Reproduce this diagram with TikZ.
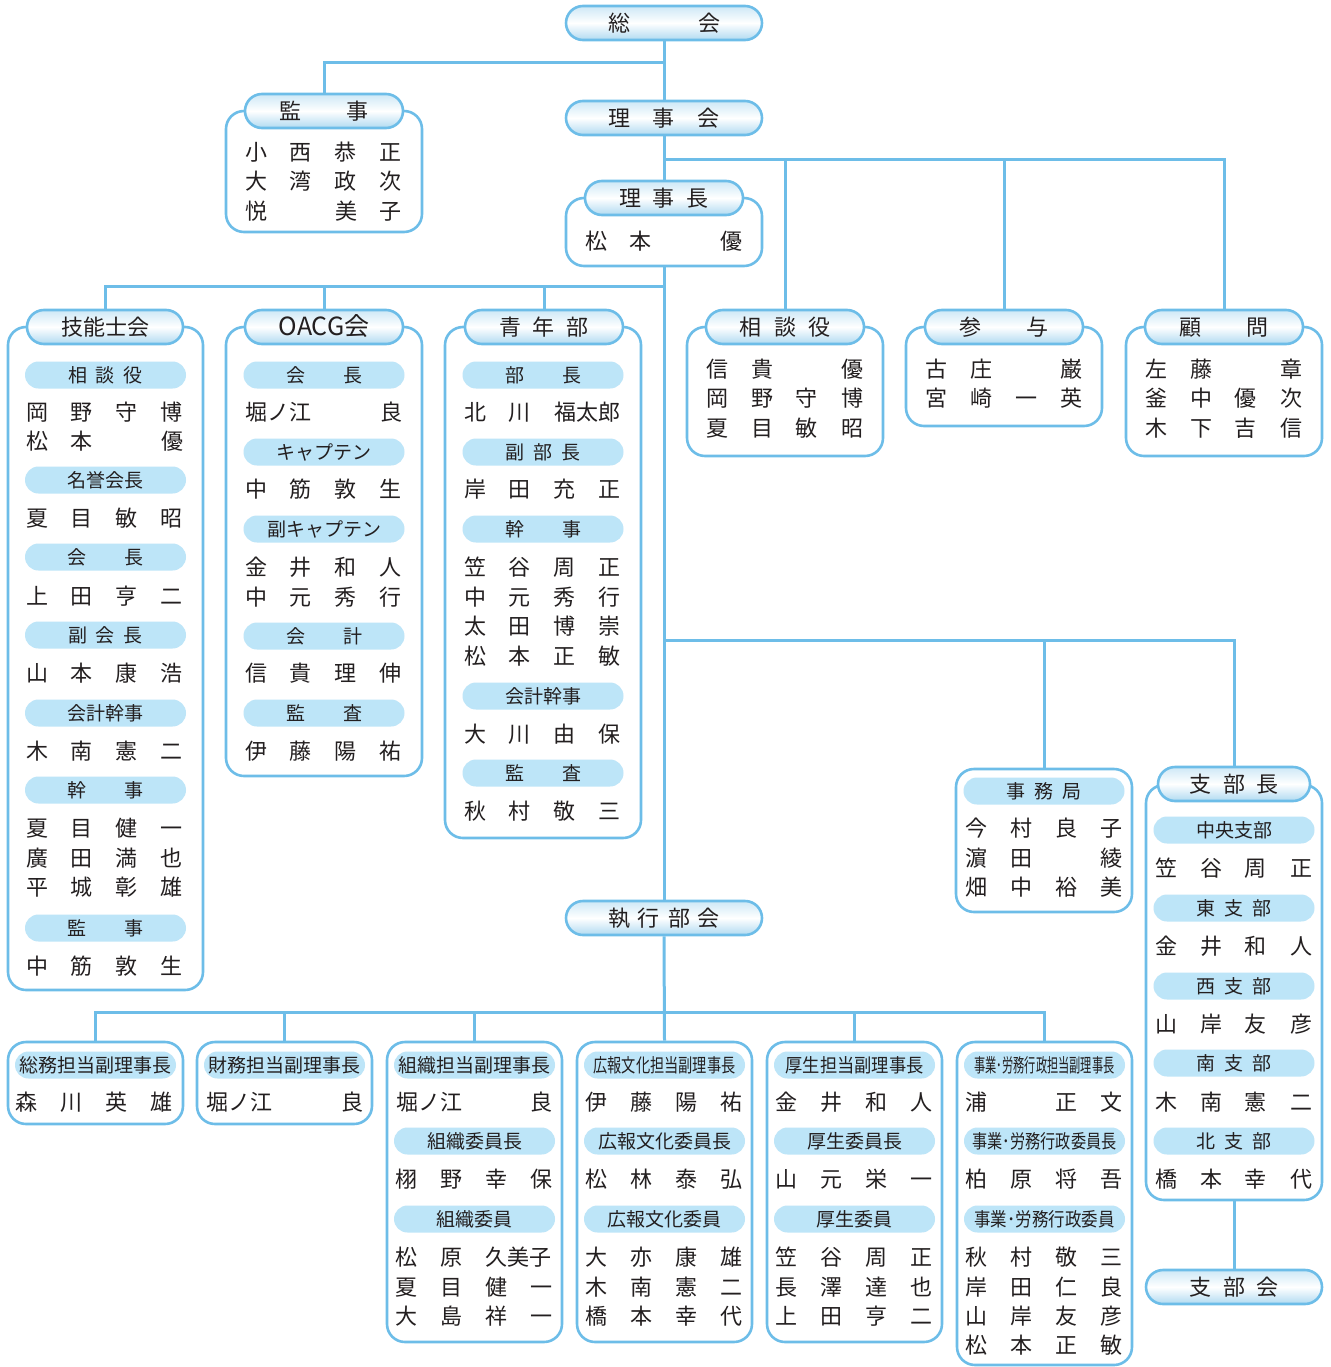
\documentclass[tikz,border=0pt]{standalone}
\usepackage{fontspec}
\setmainfont{Noto Sans CJK JP}
\usepackage{graphicx}
\usetikzlibrary{calc}
\definecolor{lc}{HTML}{6DBDE8}
\definecolor{sc}{HTML}{BDE5F8}
\definecolor{hcone}{HTML}{CDE8F6}
\definecolor{hctwo}{HTML}{B0DAF1}
\definecolor{tc}{HTML}{231F20}
\pgfdeclarelayer{bg}
\pgfsetlayers{bg,main}
\newcommand\ps[2]{\def\pspitch{#1}\psloop#2\relax}
\def\psloop#1{\ifx\relax#1\else\makebox[\pspitch pt]{#1}\expandafter\psloop\fi}
\newcommand\nmr[4]{\makebox[45pt]{#1}\makebox[45pt]{#2}\makebox[45pt]{#3}\makebox[45pt]{#4}}
\newcommand\hfont{\fontsize{22}{22}\selectfont}
\newcommand\sfont{\fontsize{19}{19}\selectfont}
\newcommand\nfont{\fontsize{22}{22}\selectfont}
\newcommand\cx[2]{\resizebox{#1pt}{\height}{#2}}
\tikzset{
  conn/.style={draw=lc, line width=3pt},
  hpill/.style={draw=lc, line width=2.6pt, rounded corners=17pt, minimum height=34pt,
    top color=hcone, bottom color=hctwo, middle color=white, inner sep=0pt,
    font=\hfont, text=tc, text height=19.36pt, text depth=2.64pt},
  subpill/.style={fill=sc, rounded corners=13.5pt, minimum width=161pt, minimum height=27pt,
    inner sep=0pt, font=\sfont, text=tc, text height=16.72pt, text depth=2.28pt},
  grp/.style={draw=lc, line width=2.6pt, rounded corners=18pt, fill=white, inner sep=0pt},
  nm/.style={font=\nfont, text=tc, inner sep=0pt, text height=19.36pt, text depth=2.64pt},
}
\newcommand\grpbox[5]{\node[grp, minimum width={#4-#2}, minimum height={#5-#3}] (#1) at ({(#2+#4)/2},{(#3+#5)/2}) {};}
\newcommand\hp[5]{\node[hpill, minimum width=#4] (#1) at (#2,#3) {#5};}
\newcommand\subp[4]{\node[subpill] (#1) at (#2,#3) {#4};}
\newcommand\nr[4]{\node[nm] (#1) at (#2,#3) {#4};}
\begin{document}
\begin{tikzpicture}[x=1pt,y=-1pt]
\useasboundingbox (0,0) rectangle (1330,1367);
% ---- top ----
\hp{soukai}{664}{23}{196}{\ps{90}{総会}}
\grpbox{kanjibox}{226}{111}{422}{232}
\hp{kanjip}{324}{111}{158}{\ps{67}{監事}}
\nr{k1}{323.5}{152}{\nmr{小}{西}{恭}{正}}
\nr{k2}{323.5}{181}{\nmr{大}{湾}{政}{次}}
\nr{k3}{323.5}{211}{\nmr{悦}{}{美}{子}}
\hp{rijikai}{664}{118}{196}{\ps{45}{理事会}}
\grpbox{rijichoubox}{566}{198}{762}{266}
\hp{rijichoup}{664}{198}{158}{\ps{34}{理事長}}
\nr{rc1}{663.5}{241}{\nmr{松}{本}{}{優}}
% ---- 技能士会 ----
\grpbox{ginoubox}{8}{327}{203}{990}
\hp{ginoup}{105}{327}{156}{技能士会}
\subp{g1}{105.5}{375}{\ps{28}{相談役}}
\nr{gn1}{104.5}{412}{\nmr{岡}{野}{守}{博}}
\nr{gn2}{104.5}{441}{\nmr{松}{本}{}{優}}
\subp{g2}{105.5}{480}{名誉会長}
\nr{gn3}{104.5}{518}{\nmr{夏}{目}{敏}{昭}}
\subp{g3}{105.5}{557}{\ps{57}{会長}}
\nr{gn4}{104.5}{596}{\nmr{上}{田}{亨}{二}}
\subp{g4}{105.5}{635}{\ps{28}{副会長}}
\nr{gn5}{104.5}{673}{\nmr{山}{本}{康}{浩}}
\subp{g5}{105.5}{713}{会計幹事}
\nr{gn6}{104.5}{751}{\nmr{木}{南}{憲}{二}}
\subp{g6}{105.5}{790}{\ps{57}{幹事}}
\nr{gn7}{104.5}{828}{\nmr{夏}{目}{健}{一}}
\nr{gn8}{104.5}{858}{\nmr{廣}{田}{満}{也}}
\nr{gn9}{104.5}{887}{\nmr{平}{城}{彰}{雄}}
\subp{g7}{105.5}{928}{\ps{57}{監事}}
\nr{gn10}{104.5}{966}{\nmr{中}{筋}{敦}{生}}
% ---- OACG会 ----
\grpbox{oacgbox}{226}{327}{422}{776}
\hp{oacgp}{324}{327}{158}{\fontsize{25}{25}\selectfont OACG会}
\subp{o1}{324}{375}{\ps{57}{会長}}
\nr{on1}{323.5}{412}{\makebox[90pt]{堀ノ江}\makebox[45pt]{}\makebox[45pt]{良}}
\subp{o2}{324}{452}{キャプテン}
\nr{on2}{323.5}{489}{\nmr{中}{筋}{敦}{生}}
\subp{o3}{324}{529}{副キャプテン}
\nr{on3}{323.5}{567}{\nmr{金}{井}{和}{人}}
\nr{on4}{323.5}{597}{\nmr{中}{元}{秀}{行}}
\subp{o4}{324}{636}{\ps{57}{会計}}
\nr{on5}{323.5}{673}{\nmr{信}{貴}{理}{伸}}
\subp{o5}{324}{713}{\ps{57}{監査}}
\nr{on6}{323.5}{751}{\nmr{伊}{藤}{陽}{祐}}
% ---- 青年部 ----
\grpbox{seinenbox}{445}{327}{641}{838}
\hp{seinenp}{544}{327}{158}{\ps{33.5}{青年部}}
\subp{s1}{543}{375}{\ps{57}{部長}}
\nr{sn1}{542.5}{412}{\makebox[45pt]{北}\makebox[45pt]{川}\makebox[90pt]{福太郎}}
\subp{s2}{543}{452}{\ps{28}{副部長}}
\nr{sn2}{542.5}{489}{\nmr{岸}{田}{充}{正}}
\subp{s3}{543}{529}{\ps{57}{幹事}}
\nr{sn3}{542.5}{567}{\nmr{笠}{谷}{周}{正}}
\nr{sn4}{542.5}{597}{\nmr{中}{元}{秀}{行}}
\nr{sn5}{542.5}{626}{\nmr{太}{田}{博}{崇}}
\nr{sn6}{542.5}{656}{\nmr{松}{本}{正}{敏}}
\subp{s4}{543}{696}{会計幹事}
\nr{sn7}{542.5}{734}{\nmr{大}{川}{由}{保}}
\subp{s5}{543}{773}{\ps{57}{監査}}
\nr{sn8}{542.5}{811}{\nmr{秋}{村}{敬}{三}}
% ---- 相談役 / 参与 / 顧問 ----
\grpbox{soudanbox}{687}{327}{883}{456}
\hp{soudanp}{785}{327}{158}{\ps{34.5}{相談役}}
\nr{sd1}{784.5}{369}{\nmr{信}{貴}{}{優}}
\nr{sd2}{784.5}{398}{\nmr{岡}{野}{守}{博}}
\nr{sd3}{784.5}{428}{\nmr{夏}{目}{敏}{昭}}
\grpbox{sanyobox}{906}{327}{1102}{426}
\hp{sanyop}{1004}{327}{158}{\ps{68}{参与}}
\nr{sy1}{1004}{369}{\nmr{古}{庄}{}{巌}}
\nr{sy2}{1004}{398}{\nmr{宮}{崎}{一}{英}}
\grpbox{komonbox}{1126}{327}{1322}{456}
\hp{komonp}{1224}{327}{158}{\ps{68}{顧問}}
\nr{km1}{1223.5}{369}{\nmr{左}{藤}{}{章}}
\nr{km2}{1223.5}{398}{\nmr{釜}{中}{優}{次}}
\nr{km3}{1223.5}{428}{\nmr{木}{下}{吉}{信}}
% ---- 事務局 ----
\grpbox{jimubox}{956}{769}{1132}{912}
\subp{jimus}{1044}{791}{\ps{28}{事務局}}
\nr{jm1}{1044}{828}{\nmr{今}{村}{良}{子}}
\nr{jm2}{1044}{858}{\nmr{濵}{田}{}{綾}}
\nr{jm3}{1044}{887}{\nmr{畑}{中}{裕}{美}}
% ---- 支部長 ----
\grpbox{shibuchoubox}{1146}{785}{1322}{1200}
\hp{shibuchoup}{1234}{784}{152}{\ps{34}{支部長}}
\subp{b1s}{1234}{830}{中央支部}
\nr{bn1}{1233.5}{868}{\nmr{笠}{谷}{周}{正}}
\subp{b2s}{1234}{908}{\ps{28}{東支部}}
\nr{bn2}{1233.5}{946}{\nmr{金}{井}{和}{人}}
\subp{b3s}{1234}{986}{\ps{28}{西支部}}
\nr{bn3}{1233.5}{1024}{\nmr{山}{岸}{友}{彦}}
\subp{b4s}{1234}{1063}{\ps{28}{南支部}}
\nr{bn4}{1233.5}{1102}{\nmr{木}{南}{憲}{二}}
\subp{b5s}{1234}{1141}{\ps{28}{北支部}}
\nr{bn5}{1233.5}{1179}{\nmr{橋}{本}{幸}{代}}
\hp{shibukai}{1234}{1287}{176}{\ps{34}{支部会}}
% ---- 執行部会 ----
\hp{shikkou}{664}{918}{196}{\ps{30}{執行部会}}
% ---- bottom boxes ----
\grpbox{bx1}{8}{1042}{183}{1124}
\subp{x1s}{95.5}{1065}{総務担当副理事長}
\nr{x1n}{94.5}{1102}{\nmr{森}{川}{英}{雄}}
\grpbox{bx2}{197}{1042}{372}{1124}
\subp{x2s}{284.5}{1065}{財務担当副理事長}
\nr{x2n}{284.5}{1102}{\makebox[90pt]{堀ノ江}\makebox[45pt]{}\makebox[45pt]{良}}
\grpbox{bx3}{387}{1042}{562}{1342}
\subp{x3s}{474.5}{1065}{組織担当副理事長}
\nr{x3n1}{474}{1102}{\makebox[90pt]{堀ノ江}\makebox[45pt]{}\makebox[45pt]{良}}
\subp{x3t}{474.5}{1141}{組織委員長}
\nr{x3n2}{474}{1179}{\nmr{栩}{野}{幸}{保}}
\subp{x3u}{474.5}{1219}{組織委員}
\nr{x3n3}{474}{1257}{\makebox[45pt]{松}\makebox[45pt]{原}\makebox[90pt]{久美子}}
\nr{x3n4}{474}{1287}{\nmr{夏}{目}{健}{一}}
\nr{x3n5}{474}{1316}{\nmr{大}{島}{祥}{一}}
\grpbox{bx4}{577}{1042}{752}{1342}
\subp{x4s}{664.5}{1065}{\cx{142}{広報文化担当副理事長}}
\nr{x4n1}{664}{1102}{\nmr{伊}{藤}{陽}{祐}}
\subp{x4t}{664.5}{1141}{広報文化委員長}
\nr{x4n2}{664}{1179}{\nmr{松}{林}{泰}{弘}}
\subp{x4u}{664.5}{1219}{広報文化委員}
\nr{x4n3}{664}{1257}{\nmr{大}{亦}{康}{雄}}
\nr{x4n4}{664}{1287}{\nmr{木}{南}{憲}{二}}
\nr{x4n5}{664}{1316}{\nmr{橋}{本}{幸}{代}}
\grpbox{bx5}{767}{1042}{942}{1342}
\subp{x5s}{854.5}{1065}{\cx{138}{厚生担当副理事長}}
\nr{x5n1}{854}{1102}{\nmr{金}{井}{和}{人}}
\subp{x5t}{854.5}{1141}{厚生委員長}
\nr{x5n2}{854}{1179}{\nmr{山}{元}{栄}{一}}
\subp{x5u}{854.5}{1219}{厚生委員}
\nr{x5n3}{854}{1257}{\nmr{笠}{谷}{周}{正}}
\nr{x5n4}{854}{1287}{\nmr{長}{澤}{達}{也}}
\nr{x5n5}{854}{1316}{\nmr{上}{田}{亨}{二}}
\grpbox{bx6}{957}{1042}{1132}{1365}
\subp{x6s}{1044.5}{1065}{\cx{140}{事業･労務行政担当副理事長}}
\nr{x6n1}{1044}{1102}{\nmr{浦}{}{正}{文}}
\subp{x6t}{1044.5}{1141}{\cx{144}{事業･労務行政委員長}}
\nr{x6n2}{1044}{1179}{\nmr{柏}{原}{将}{吾}}
\subp{x6u}{1044.5}{1219}{\cx{140}{事業･労務行政委員}}
\nr{x6n3}{1044}{1257}{\nmr{秋}{村}{敬}{三}}
\nr{x6n4}{1044}{1287}{\nmr{岸}{田}{仁}{良}}
\nr{x6n5}{1044}{1316}{\nmr{山}{岸}{友}{彦}}
\nr{x6n6}{1044}{1345}{\nmr{松}{本}{正}{敏}}
% ---- connectors ----
\begin{pgfonlayer}{bg}
\coordinate (c1) at (664,63);
\coordinate (c2) at (664,160);
\coordinate (c3) at (664,286);
\coordinate (c4) at (664,640);
\coordinate (c5) at (664,1012);
\draw[conn] (soukai.south) -- (rijikai.north);
\draw[conn] (kanjip.north) |- (c1);
\draw[conn] (rijikai.south) -- (rijichoup.north);
\draw[conn] (komonp.north) |- (c2);
\draw[conn] (soudanp.north) -- (soudanp.north |- c2);
\draw[conn] (sanyop.north) -- (sanyop.north |- c2);
\draw[conn] (rijichoubox.south) -- (shikkou.north);
\draw[conn] (ginoup.north) |- (c3);
\draw[conn] (oacgp.north) -- (oacgp.north |- c3);
\draw[conn] (seinenp.north) -- (seinenp.north |- c3);
\draw[conn] (shibuchoup.north) |- (c4);
\draw[conn] (jimubox.north) -- (jimubox.north |- c4);
\draw[conn] (shibuchoubox.south) -- (shibukai.north);
\draw[conn] (shikkou.south) -- (bx4.north);
\draw[conn] (bx1.north) |- (c5) -| (bx6.north);
\draw[conn] (bx2.north) -- (bx2.north |- c5);
\draw[conn] (bx3.north) -- (bx3.north |- c5);
\draw[conn] (bx5.north) -- (bx5.north |- c5);
\end{pgfonlayer}
\end{tikzpicture}
\end{document}
